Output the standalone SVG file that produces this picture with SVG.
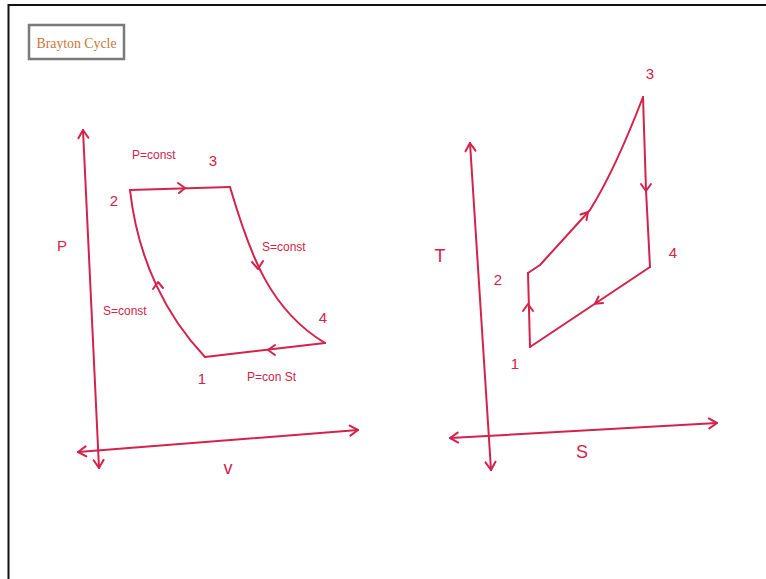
<svg xmlns="http://www.w3.org/2000/svg" width="766" height="579" viewBox="0 0 766 579">
<style>
.ink{fill:none;stroke:#d3234b;stroke-width:2;stroke-linecap:round;stroke-linejoin:round}
.lbl{fill:#d3234b;font-family:"Liberation Sans","DejaVu Sans",sans-serif}
.sm{font-size:12px}
.md{font-size:15px}
.lg{font-size:18px}
</style>
<defs>
<marker id="ah" viewBox="-10 -7 12 14" markerUnits="userSpaceOnUse" markerWidth="12" markerHeight="14" refX="0" refY="0" orient="auto-start-reverse">
<path d="M-8,-5 L0,0 L-8,5" fill="none" stroke="#d3234b" stroke-width="2" stroke-linecap="round" stroke-linejoin="round"/>
</marker>
</defs>
<rect width="766" height="579" fill="#ffffff"/>
<path d="M8.5,579 L8.5,5 L766,5" fill="none" stroke="#111" stroke-width="2"/>
<g id="title">
<rect x="29" y="25" width="95" height="34" fill="#fff" stroke="#7a7a7a" stroke-width="2.5"/>
<text x="76.5" y="48" text-anchor="middle" font-family="Liberation Serif,serif" font-size="14" fill="#c7773c" textLength="80" lengthAdjust="spacingAndGlyphs">Brayton Cycle</text>
</g>
<g id="pv-axes">
<path class="ink" d="M99,468 L83,130" marker-start="url(#ah)" marker-end="url(#ah)"/>
<path class="ink" d="M78,452 L358,430" marker-start="url(#ah)" marker-end="url(#ah)"/>
<text class="lbl md" x="62" y="251" text-anchor="middle">P</text>
<text class="lbl lg" x="228" y="474" text-anchor="middle">v</text>
</g>
<g id="pv-cycle">
<path class="ink" d="M130,190 L230,187"/>
<path class="ink" d="M230,187 C250,255 270,310 325,343"/>
<path class="ink" d="M325,343 L205,357"/>
<path class="ink" d="M205,357 C168,318 138,262 130,190"/>
<path class="ink" d="M178,183 L185,188 L179,193"/>
<path class="ink" d="M252,262 L258,269 L263,261"/>
<path class="ink" d="M153,289 L158,282 L163,288"/>
<path class="ink" d="M275,345 L268,350 L275,355"/>
</g>
<g id="pv-labels">
<text class="lbl sm" x="132" y="159">P=const</text>
<text class="lbl md" x="213" y="166" text-anchor="middle">3</text>
<text class="lbl md" x="114" y="206" text-anchor="middle">2</text>
<text class="lbl sm" x="262" y="251">S=const</text>
<text class="lbl sm" x="103" y="315">S=const</text>
<text class="lbl md" x="323" y="323" text-anchor="middle">4</text>
<text class="lbl md" x="202" y="384" text-anchor="middle">1</text>
<text class="lbl sm" x="247" y="381">P=con St</text>
</g>
<g id="ts-axes">
<path class="ink" d="M491,470 L470,143" marker-start="url(#ah)" marker-end="url(#ah)"/>
<path class="ink" d="M450,438 L717,423" marker-start="url(#ah)" marker-end="url(#ah)"/>
<text class="lbl lg" x="440" y="262" text-anchor="middle">T</text>
<text class="lbl lg" x="582" y="458" text-anchor="middle">S</text>
</g>
<g id="ts-cycle">
<path class="ink" d="M530,347 L528,273"/>
<path class="ink" d="M528,273 L540,265 L590,210 Q615,170 643,97"/>
<path class="ink" d="M643,97 L646,190 L650,267"/>
<path class="ink" d="M650,267 L530,347"/>
<path class="ink" d="M523,311 L528,304 L533,311"/>
<path class="ink" d="M580.5,214.5 L588,212 L586.5,220"/>
<path class="ink" d="M641,184 L646,191 L651,184"/>
<path class="ink" d="M603,303 L595,303.7 L598.6,296.5"/>
</g>
<g id="ts-labels">
<text class="lbl md" x="650" y="79" text-anchor="middle">3</text>
<text class="lbl md" x="673" y="258" text-anchor="middle">4</text>
<text class="lbl md" x="498" y="285" text-anchor="middle">2</text>
<text class="lbl md" x="515" y="369" text-anchor="middle">1</text>
</g>
</svg>
